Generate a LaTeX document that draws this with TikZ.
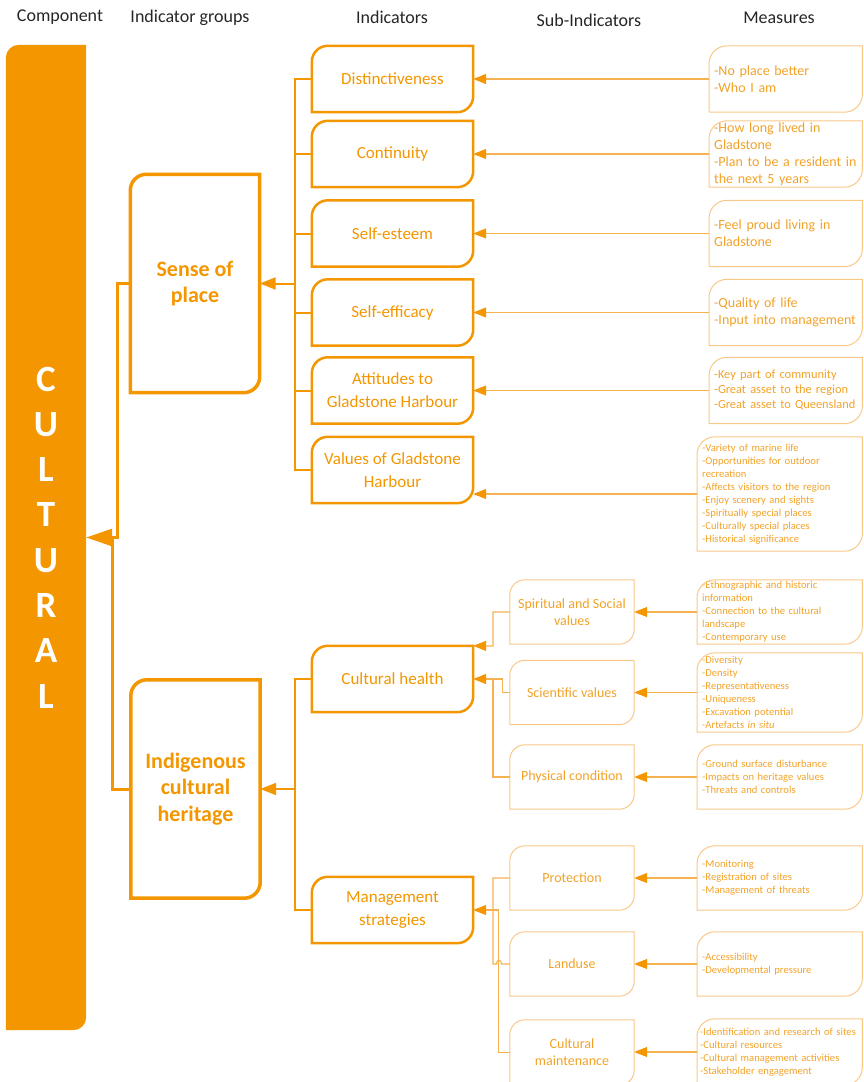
\documentclass[tikz,border=0pt]{standalone}
\usepackage{fontspec}
\setmainfont{Carlito}
\usetikzlibrary{arrows.meta,calc}

\definecolor{culorange}{RGB}{243,150,0}
\definecolor{cultext}{RGB}{242,162,40}
\definecolor{culpale}{RGB}{249,200,135}
\definecolor{culline}{RGB}{246,178,80}

% frame with rounded top-left and bottom-right corners round a named node
\newcommand{\tlbrframe}[3][]{%
  \draw[#1] (#2.south west) -- ($(#2.north west)+(0,#3)$)
    arc[start angle=180, end angle=90, radius=#3pt]
    -- (#2.north east) -- ($(#2.south east)-(0,#3)$)
    arc[start angle=0, end angle=-90, radius=#3pt] -- cycle;}

\begin{document}
\begin{tikzpicture}[x=1pt,y=-1pt,
  head/.style={font=\fontsize{18}{22}\selectfont, text=black!85},
  grp/.style={minimum width=129pt, minimum height=218pt, inner sep=0pt, align=center, text=culorange, font=\bfseries\fontsize{22}{26.5}\selectfont},
  ind/.style={minimum width=161pt, minimum height=66pt, inner sep=0pt, align=center, text=culorange, font=\fontsize{17}{23}\selectfont},
  subind/.style={minimum width=124pt, minimum height=64pt, inner sep=0pt, align=center, text=cultext, font=\fontsize{14}{17}\selectfont},
  meas/.style={anchor=west, minimum height=66pt, text width=143pt, inner xsep=5pt, inner ysep=0pt, align=left, text=cultext, font=\fontsize{14}{17}\selectfont},
  smeas/.style={meas, text width=155pt, minimum height=64pt, font=\fontsize{10.6}{13}\selectfont},
  grpline/.style={draw=culorange, line width=3.5pt},
  indline/.style={draw=culorange, line width=2.5pt},
  thinline/.style={draw=culpale, line width=1pt},
  grplink/.style={draw=culorange, line width=3pt},
  indlink/.style={draw=culorange, line width=2pt},
  tip/.style={-{Triangle[length=13pt,width=10pt,color=culorange]}},
  measlink/.style={draw=culline, line width=1.2pt, tip},
  sublink/.style={draw=culline, line width=1.2pt}]
\useasboundingbox (0,0) rectangle (863,1082);

% column heads
\node[head] (hcomp) at (60,17.5) {Component};
\node[head] (hgrp) at (190,17.5) {Indicator groups};
\node[head] (hind) at (392,17.5) {Indicators};
\node[head] (hsub) at (589,20.5) {Sub-Indicators};
\node[head] (hmeas) at (779,17.5) {Measures};

% component
\node[minimum width=80pt, minimum height=985pt, inner sep=0pt] (bar) at (46,537.5) {};
\tlbrframe[fill=culorange, draw=none]{bar}{13}
\node[align=center, text=white, font=\bfseries\fontsize{37}{45.3}\selectfont] (barlabel) at (bar.center) {C\\U\\L\\T\\U\\R\\A\\L};

% indicator groups
\node[grp] (sop) at (195,283.5) {Sense of\\place};
\node[grp] (ich) at (195.5,789) {Indigenous\\cultural\\heritage};
\tlbrframe[grpline]{sop}{16}
\tlbrframe[grpline]{ich}{16}

% indicators
\node[ind] (dist) at (392.5,79) {Distinctiveness};
\node[ind] (cont) at (392.5,154) {Continuity};
\node[ind] (este) at (392.5,233.5) {Self-esteem};
\node[ind] (effi) at (392.5,312.5) {Self-efficacy};
\node[ind] (atti) at (392.5,390.5) {Attitudes to\\Gladstone Harbour};
\node[ind] (valu) at (392.5,470) {Values of Gladstone\\Harbour};
\node[ind] (chea) at (392.5,679) {Cultural health};
\node[ind] (mstr) at (392.5,910) {Management\\strategies};
\foreach \n in {dist,cont,este,effi,atti,valu,chea,mstr} {\tlbrframe[indline]{\n}{16}}

% sub-indicators
\node[subind] (spir) at (572,612) {Spiritual and Social\\values};
\node[subind] (scie) at (572,692.5) {Scientific values};
\node[subind] (phys) at (572,777) {Physical condition};
\node[subind] (prot) at (572,878) {Protection};
\node[subind] (land) at (572,964) {Landuse};
\node[subind, minimum height=65pt] (cmai) at (572,1052.5) {Cultural\\maintenance};
\foreach \n in {spir,scie,phys,prot,land,cmai} {\tlbrframe[thinline]{\n}{15}}

% measures
\node[meas] (mdist) at (709,79) {-No place better\\-Who I am};
\node[meas] (mcont) at (709,154) {-How long lived in\\Gladstone\\-Plan to be a resident in\\the next 5 years};
\node[meas] (meste) at (709,233.5) {-Feel proud living in\\Gladstone};
\node[meas] (meffi) at (709,312.5) {-Quality of life\\-Input into management};
\node[meas, font=\fontsize{12.4}{15}\selectfont] (matti) at (709,390.5) {-Key part of community\\-Great asset to the region\\-Great asset to Queensland};
\node[smeas, minimum height=114pt] (mvalu) at (697,494) {-Variety of marine life\\-Opportunities for outdoor\\recreation\\-Affects visitors to the region\\-Enjoy scenery and sights\\-Spiritually special places\\-Culturally special places\\-Historical significance};
\node[smeas] (mspir) at (697,612) {-Ethnographic and historic\\information\\-Connection to the cultural\\landscape\\-Contemporary use};
\node[smeas, minimum height=79pt] (mscie) at (697,692.5) {-Diversity\\-Density\\-Representativeness\\-Uniqueness\\-Excavation potential\\-Artefacts \textit{in situ}};
\node[smeas] (mphys) at (697,777) {-Ground surface disturbance\\-Impacts on heritage values\\-Threats and controls};
\node[smeas] (mprot) at (697,878) {-Monitoring\\-Registration of sites\\-Management of threats};
\node[smeas] (mland) at (697,964) {-Accessibility\\-Developmental pressure};
\node[smeas, minimum height=66pt, text width=159pt, inner xsep=3pt] (mcmai) at (697,1052) {-Identification and research of sites\\-Cultural resources\\-Cultural management activities\\-Stakeholder engagement};
\foreach \n in {mdist,mcont,meste,meffi,matti,mvalu,mspir,mscie,mphys,mprot,mland,mcmai} {\tlbrframe[thinline]{\n}{18}}

% measures to indicators and sub-indicators
\foreach \m/\n in {mdist/dist,mcont/cont,meste/este,meffi/effi,matti/atti,mvalu/valu,mspir/spir,mscie/scie,mphys/phys,mprot/prot,mland/land,mcmai/cmai}
  {\draw[measlink] (\m.west) -- (\m.west -| \n.east);}

% sub-indicators to indicators
\coordinate (chtop) at (493,646);
\coordinate (chmid) at (493,679);
\draw[sublink, tip] (spir.west) -| (chtop) -- (chea.north east);
\draw[sublink, tip] (scie.west) -- ++(-7,0) |- (chea.east);
\draw[sublink] (phys.west) -| (chmid);
\coordinate (lhop) at (493,964);
\draw[sublink, tip] (cmai.west) -- ++(-11,0) |- (mstr.east);
\draw[sublink] (prot.west) -| (lhop) -- ++(3.5,0) .. controls +(0,-5) and +(0,-5) .. ++(5,0) -- (land.west);

% indicators to groups
\coordinate (spbus) at (295,283.5);
\draw[indlink] (dist.west) -| (spbus) |- (valu.west);
\foreach \n in {cont,este,effi,atti} {\draw[indlink] (\n.west) -- (\n.west -| spbus);}
\draw[indlink, -{Triangle[length=16pt,width=12pt]}] (spbus) -- (sop.east);
\coordinate (ihbus) at (295,789);
\draw[indlink] (chea.west) -| (ihbus) |- (mstr.west);
\draw[indlink, -{Triangle[length=16pt,width=12pt]}] (ihbus) -- (ich.east);

% groups to component
\coordinate (cjoin) at (117,537.5);
\coordinate (cjoinb) at (112,537.5);
\draw[grplink, -{Triangle[length=26pt,width=17pt]}] (sop.west) -| (cjoin) -- (bar.east);
\draw[grplink] (ich.west) -| (cjoinb);
\end{tikzpicture}
\end{document}
